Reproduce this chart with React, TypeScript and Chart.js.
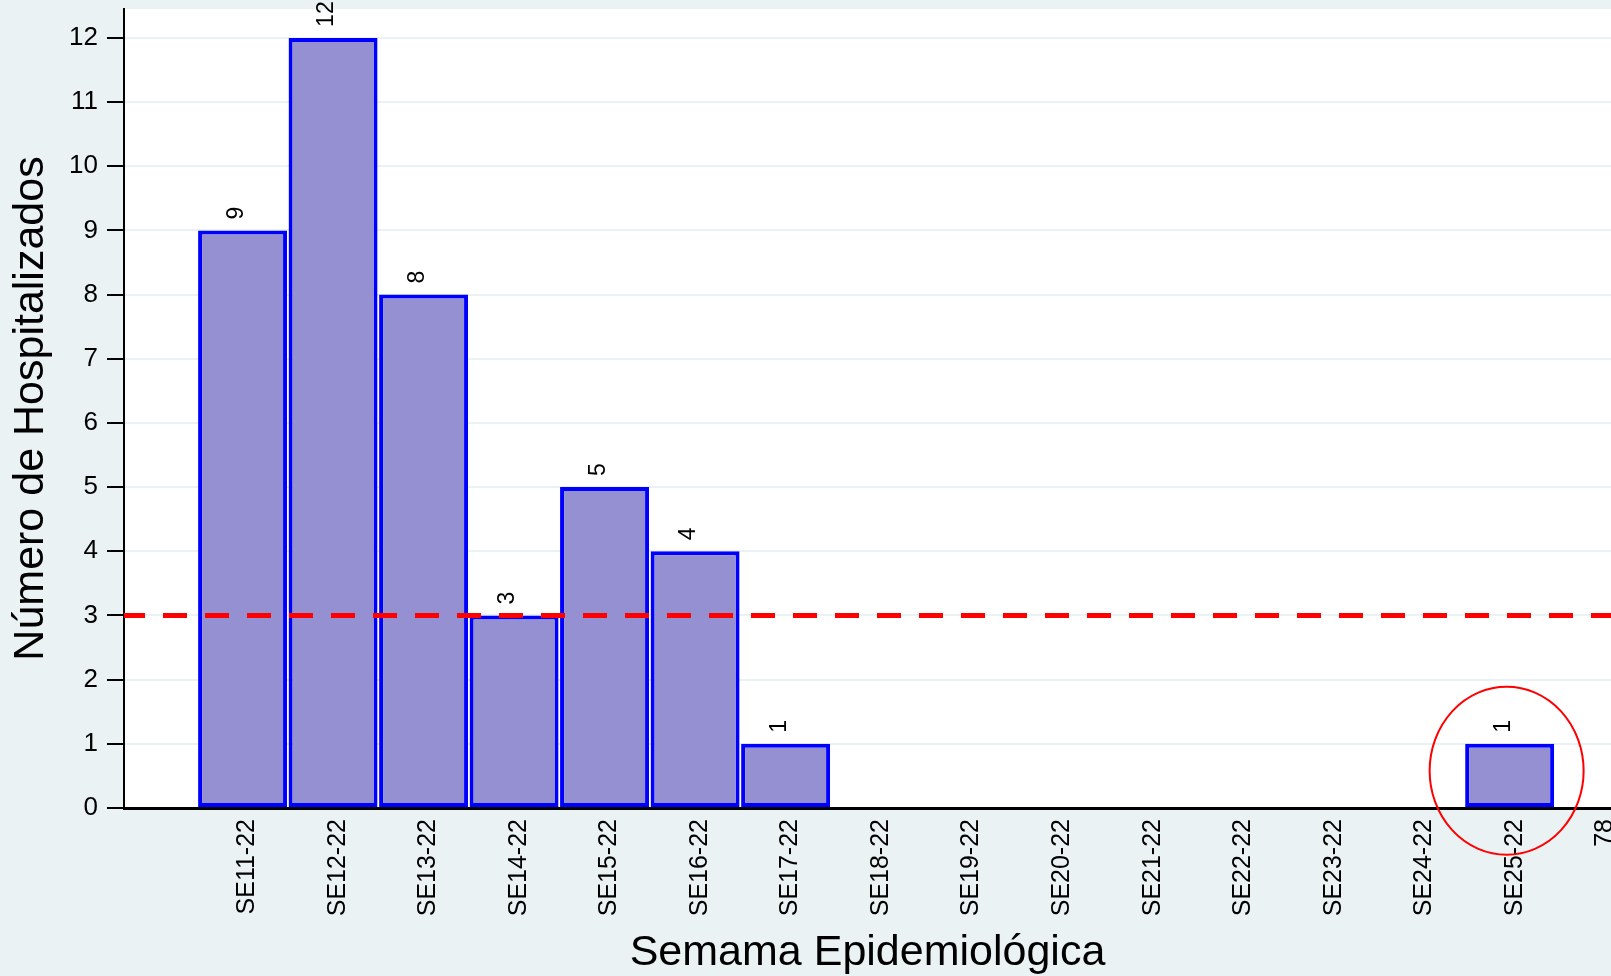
import React, { useEffect, useRef } from 'react';
import { Chart, registerables } from 'chart.js';

Chart.register(...registerables);

// ---- Data ----
const categories = [
  'SE11-22', 'SE12-22', 'SE13-22', 'SE14-22', 'SE15-22', 'SE16-22', 'SE17-22', 'SE18-22',
  'SE19-22', 'SE20-22', 'SE21-22', 'SE22-22', 'SE23-22', 'SE24-22', 'SE25-22',
];
const hospitalizados = [9, 12, 8, 3, 5, 4, 1, 0, 0, 0, 0, 0, 0, 0, 1];
const tickLabels = [...categories, '78'];
const yTickValues = [0, 1, 2, 3, 4, 5, 6, 7, 8, 9, 10, 11, 12];
const umbral = 3;
const highlighted = 'SE25-22';

const yTitle = 'Número de Hospitalizados';
const xTitle = 'Semama Epidemiológica';

// ---- Styles / layout ----
const FONT = '"Liberation Sans", Arial, Helvetica, sans-serif';
const BG = '#EAF2F3';
const X_MIN = -1.31;
const X_MAX = 15.12;
const Y_MAX = 12.45;

export default function App() {
  const ref = useRef<HTMLCanvasElement>(null);

  useEffect(() => {
    document.body.style.margin = '0';
    const canvas = ref.current!;
    const barData = categories.map((_, i) => ({ x: i, y: hospitalizados[i] }));

    const bgPlugin = {
      id: 'bgPlugin',
      beforeDraw(chart: any) {
        const { ctx, chartArea, width, height } = chart;
        ctx.save();
        ctx.fillStyle = BG;
        ctx.fillRect(0, 0, width, height);
        ctx.fillStyle = '#FFFFFF';
        ctx.fillRect(chartArea.left, chartArea.top, chartArea.right - chartArea.left, chartArea.bottom - chartArea.top);
        ctx.restore();
      },
    };

    const labelPlugin = {
      id: 'labelPlugin',
      afterDatasetsDraw(chart: any) {
        const { ctx } = chart;
        const meta = chart.getDatasetMeta(1);
        meta.data.forEach((bar: any, i: number) => {
          const v = hospitalizados[i];
          if (!v) return;
          ctx.save();
          ctx.translate(bar.x, bar.y - 11);
          ctx.rotate(-Math.PI / 2);
          ctx.font = `23px ${FONT}`;
          ctx.fillStyle = '#000';
          ctx.textAlign = 'left';
          ctx.textBaseline = 'alphabetic';
          ctx.fillText(String(v), 0, 0);
          ctx.restore();
        });
        // highlight ellipse
        const idx = categories.indexOf(highlighted);
        const xs = chart.scales.x;
        const ys = chart.scales.y;
        const cx = xs.getPixelForValue(idx) - 3;
        const cy = ys.getPixelForValue(0.58);
        ctx.save();
        ctx.strokeStyle = '#FF0000';
        ctx.lineWidth = 2;
        ctx.beginPath();
        ctx.ellipse(cx, cy, 77, 84, 0, 0, Math.PI * 2);
        ctx.stroke();
        ctx.restore();
      },
    };

    const chart = new Chart(canvas, {
      type: 'bar',
      data: {
        datasets: [
          {
            type: 'line',
            data: [{ x: X_MIN, y: umbral }, { x: X_MAX, y: umbral }],
            borderColor: '#FF0000',
            borderWidth: 5,
            borderDash: [24, 18],
            borderDashOffset: 3,
            pointRadius: 0,
            fill: false,
            order: 0,
          } as any,
          {
            type: 'bar',
            data: barData,
            backgroundColor: '#9490D1',
            borderColor: '#0000FF',
            borderWidth: (c: any) => (c.raw && c.raw.y > 0 ? 4 : 0),
            borderSkipped: false,
            barPercentage: 0.983,
            categoryPercentage: 1,
            order: 1,
          } as any,
        ],
      },
      options: {
        animation: false,
        responsive: false,
        devicePixelRatio: 1,
        layout: { padding: { top: 9, left: 0, right: 0, bottom: 0 } },
        plugins: {
          legend: { display: false },
          tooltip: { enabled: false },
          title: { display: false },
        },
        scales: {
          x: {
            type: 'linear',
            min: X_MIN,
            max: X_MAX,
            offset: false,
            grid: { display: false, drawTicks: false, offset: false },
            border: { display: true, color: '#000', width: 3 },
            afterBuildTicks: (s: any) => {
              s.ticks = tickLabels.map((_, i) => ({ value: i }));
            },
            afterFit: (s: any) => {
              s.height = 168;
              s.paddingLeft = 0;
              s.paddingRight = 0;
            },
            ticks: {
              autoSkip: false,
              maxRotation: 90,
              minRotation: 90,
              padding: 11,
              labelOffset: 5,
              color: '#000',
              font: { family: FONT, size: 25 },
              callback: (v: any) => tickLabels[v] ?? '',
            },
            title: {
              display: true,
              text: xTitle,
              color: '#000',
              font: { family: FONT, size: 43, lineHeight: 1 },
              padding: { top: 0, bottom: 1 },
            },
          } as any,
          y: {
            type: 'linear',
            min: 0,
            max: Y_MAX,
            afterBuildTicks: (s: any) => {
              s.ticks = yTickValues.map((v) => ({ value: v }));
            },
            afterFit: (s: any) => {
              s.width = 124;
              s.paddingTop = 0;
              s.paddingBottom = 0;
            },
            grid: {
              color: BG,
              lineWidth: 2,
              tickColor: '#000',
              tickWidth: 2,
              tickLength: 17,
              drawTicks: true,
            },
            border: { display: true, color: '#000', width: 2 },
            ticks: {
              padding: 9,
              color: '#000',
              font: { family: FONT, size: 26 },
            },
            title: {
              display: true,
              text: yTitle,
              color: '#000',
              font: { family: FONT, size: 43, lineHeight: 1 },
              padding: { top: 10, bottom: 0 },
            },
          } as any,
        },
      },
      plugins: [bgPlugin, labelPlugin],
    });

    return () => chart.destroy();
  }, []);

  return <canvas ref={ref} width={1611} height={976} style={{ display: 'block' }} />;
}
